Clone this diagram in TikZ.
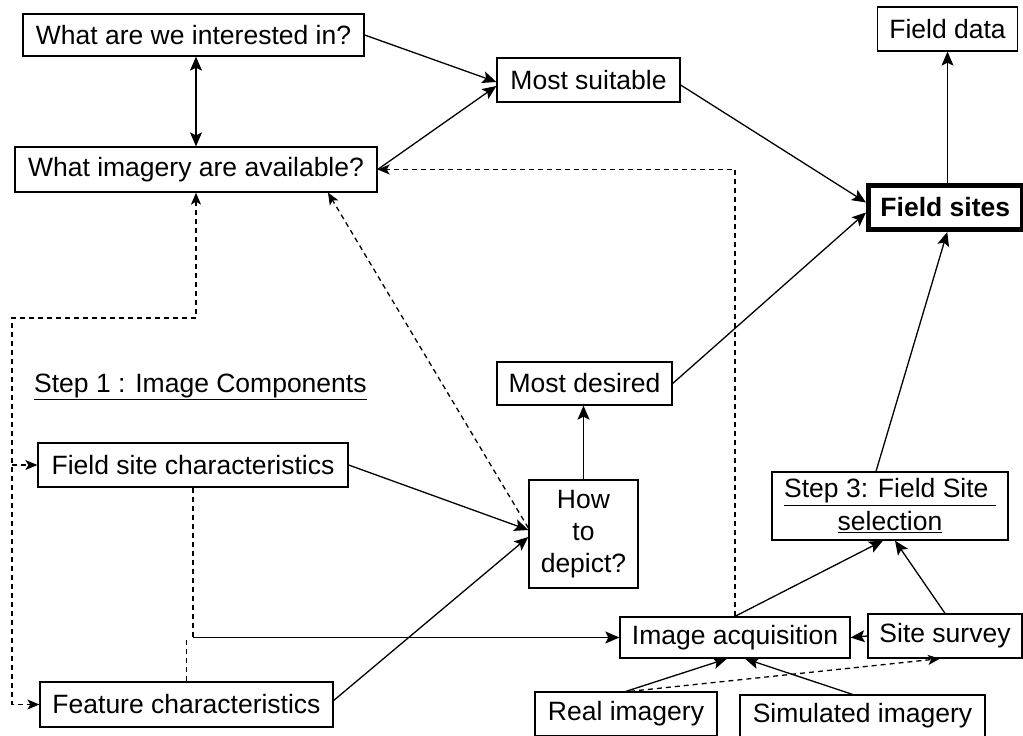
\documentclass[tikz,border=0pt]{standalone}
\usepackage{fontspec}
\setmainfont{Liberation Sans}
\usetikzlibrary{arrows.meta,calc}
\begin{document}
\begin{tikzpicture}[x=1pt,y=-1pt,
  every node/.style={font=\fontsize{26.5}{32}\selectfont},
  box/.style={draw, line width=1.3pt, inner sep=0pt, align=center},
  tip/.style={},
  conn/.style={line width=1.3pt, -{Stealth[length=14pt,width=12pt,inset=3pt]}},
  conntwo/.style={line width=1.3pt, {Stealth[length=14pt,width=12pt,inset=3pt]}-{Stealth[length=14pt,width=12pt,inset=3pt]}},
  dline/.style={line width=1.3pt, dash pattern=on 5pt off 4pt},
  darr/.style={dline, -{Stealth[length=12pt,width=10pt,inset=3pt]}},
  darrtwo/.style={dline, {Stealth[length=12pt,width=10pt,inset=3pt]}-{Stealth[length=12pt,width=10pt,inset=3pt]}},
]
\useasboundingbox[fill=white] (0,0) rectangle (1023,736);

% nodes
\node[box, minimum width=341pt, minimum height=42pt] (q1) at (193.5,35) {What are we interested in?};
\node[box, minimum width=183pt, minimum height=44pt] (ms) at (588.5,80) {Most suitable};
\node[box, minimum width=140pt, minimum height=44pt] (fd) at (947.5,29) {Field data};
\node[box, minimum width=362pt, minimum height=45pt] (q2) at (196,169.5) {What imagery are available?};
\node[box, line width=5pt, minimum width=153.5pt, minimum height=44pt, font=\fontsize{26.5}{32}\selectfont\bfseries] (fs) at (945.25,207.5) {Field sites};
\node[anchor=base west, inner sep=0pt] (st1) at (34,392) {\underline{Step 1 : Image Components}};
\node[box, minimum width=175pt, minimum height=43pt] (md) at (584.5,383.5) {Most desired};
\node[box, minimum width=310pt, minimum height=44pt] (fsc) at (193,465) {Field site characteristics};
\node[box, minimum width=109pt, minimum height=108pt] (hd) at (583.5,534) {How\\to\\depict?};
\node[box, minimum width=236pt, minimum height=68pt, font=\fontsize{26.5}{33}\selectfont] (s3) at (890,506) {\underline{Step 3: Field Site\ }\\\underline{selection}};
\node[box, minimum width=230pt, minimum height=41pt] (ia) at (735,637.5) {Image acquisition};
\node[box, minimum width=154pt, minimum height=44pt] (ss) at (945,636) {Site survey};
\node[box, minimum width=293pt, minimum height=45pt] (fc) at (186.5,704.5) {Feature characteristics};
\node[box, minimum width=182pt, minimum height=44pt] (ri) at (626,714) {Real imagery};
\node[box, minimum width=245pt, minimum height=42pt] (si) at (862.5,716) {Simulated imagery};

% solid connectors
\draw[conn] (q1.east) -- ([yshift=-2pt]ms.west);
\draw[conntwo] (q2.north |- q1.south) -- (q2.north);
\draw[conn] (q2.east) -- ([yshift=-6pt]ms.west);
\draw[conn] ([yshift=-5pt]ms.east) -- ([yshift=5pt]fs.west);
\draw[conn] (md.east) -- ([yshift=-5pt]fs.west);
\draw[conn] ([xshift=-14pt]s3.north) -- ([xshift=2pt]fs.south);
\draw[conn, line width=1pt] (fd.south |- fs.north) -- (fd.south);
\draw[conn] (hd.north) -- (hd.north |- md.south);
\draw[conn] (fsc.east) -- ([yshift=4pt]hd.west);
\draw[conn] ([yshift=4pt]fc.east) -- ([yshift=-3pt]hd.west);
\draw[conn] (ri.north) -- ([xshift=-8pt]ia.south);
\draw[conn] ([xshift=-10pt]si.north) -- ([xshift=10pt]ia.south);
\draw[conn] (ia.north) -- ([xshift=-7pt]s3.south);
\draw[conn] (ss.north) -- ([xshift=5pt]s3.south);
\draw[conn] (ss.west) -- (ia.east);

% dashed connectors
\draw[darr] ([yshift=6pt]hd.west) -- ([xshift=132pt]q2.south);
\draw[darr] (ia.north) |- (q2.east);
\coordinate (cl) at (12,318);
\draw[darrtwo] (q2.south) |- (cl) |- (fc.west);
\draw[darr] (cl |- fsc.west) -- (fsc.west);
\coordinate (j) at (fsc.south |- ia.west);
\draw[dline] (fsc.south) -- (j);
\draw[conn] (j) -- (ia.west);
\draw[dline] (fc.north) -- (fc.north |- j);
\draw[darr] ([xshift=4pt]ri.north) -- ([xshift=-5pt]ss.south);
\end{tikzpicture}
\end{document}
